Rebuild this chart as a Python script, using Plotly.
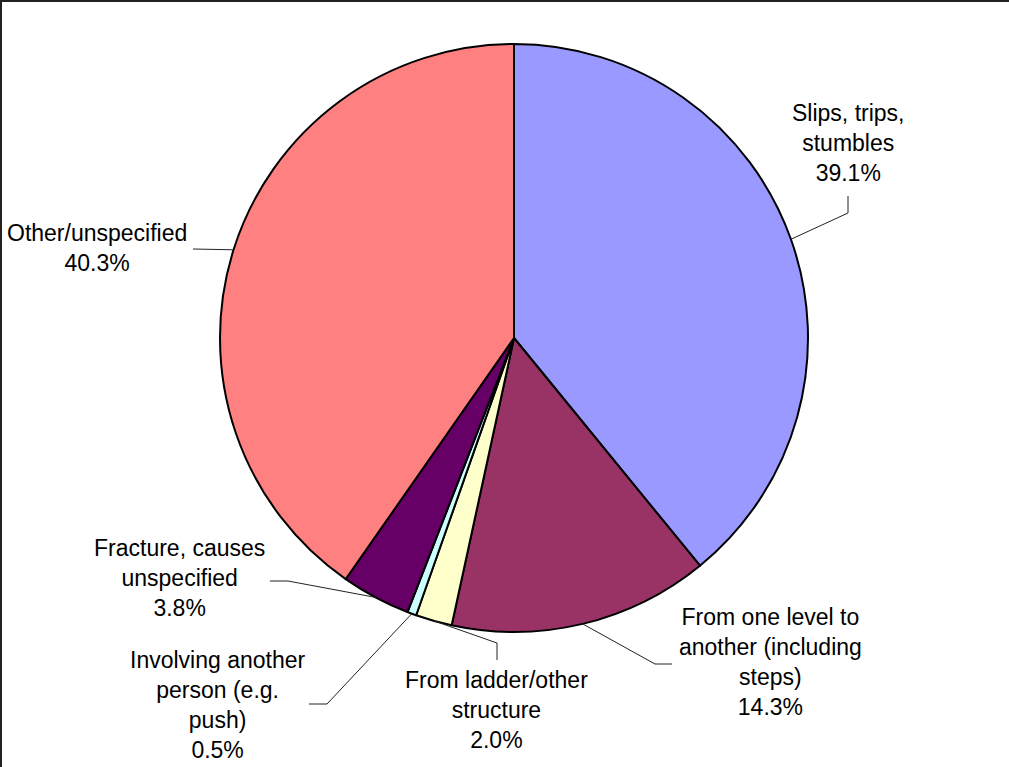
import numpy as np
import plotly.graph_objects as go

W, H = 1009, 767

categories = ["Slips, trips, stumbles", "From one level to another (including steps)",
              "From ladder/other structure", "Involving another person (e.g. push)",
              "Fracture, causes unspecified", "Other/unspecified"]
shares = [39.1, 14.3, 2.0, 0.5, 3.8, 40.3]
label_lines = [["Slips, trips,", "stumbles"],
               ["From one level to", "another (including", "steps)"],
               ["From ladder/other", "structure"],
               ["Involving another", "person (e.g.", "push)"],
               ["Fracture, causes", "unspecified"],
               ["Other/unspecified"]]
colors = ["#9999FF", "#993366", "#FFFFCC", "#CCFFFF", "#660066", "#FF8080"]

# pie geometry in pixels
cx, cy, r = 514, 338, 294

# label block centres and leader line bend / end points (pixels)
label_pos = [(848, 143), (770, 662), (496, 710), (218, 705), (179, 578), (97, 248)]
leader_pts = [[(848, 213), (848, 196)],
              [(655, 664), (672, 664)],
              [(497, 643), (497, 660)],
              [(327, 704), (309, 704)],
              [(288, 581), (270, 581)],
              [(193, 249)]]


def px(x):
    return x / W


def py(y):
    return 1 - y / H


fig = go.Figure()
fig.add_trace(go.Pie(
    labels=categories, values=shares, sort=False, direction="clockwise", rotation=0,
    marker=dict(colors=colors, line=dict(color="black", width=2)),
    textinfo="none", hoverinfo="label+percent", showlegend=False,
    domain=dict(x=[px(cx - r), px(cx + r)], y=[py(cy + r), py(cy - r)]),
))

shapes = []
annotations = []
cum = 0.0
total = sum(shares)
for i, v in enumerate(shares):
    mid = (cum + v / 2) / total * 2 * np.pi
    cum += v
    sx = cx + r * np.sin(mid)
    sy = cy - r * np.cos(mid)
    pts = [(sx, sy)] + leader_pts[i]
    for (x0, y0), (x1, y1) in zip(pts[:-1], pts[1:]):
        shapes.append(dict(type="line", xref="paper", yref="paper",
                           x0=px(x0), y0=py(y0), x1=px(x1), y1=py(y1),
                           line=dict(color="#222222", width=1)))
    text = "<br>".join(label_lines[i] + ["%.1f%%" % v])
    lx, ly = label_pos[i]
    annotations.append(dict(x=px(lx), y=py(ly), xref="paper", yref="paper",
                            text=text, showarrow=False, align="center",
                            xanchor="center", yanchor="middle",
                            font=dict(family="Liberation Sans, Arial", size=23, color="black")))

# chart frame (top and left edges visible)
shapes.append(dict(type="line", xref="paper", yref="paper", x0=0, y0=py(1), x1=1, y1=py(1),
                   line=dict(color="#222222", width=2)))
shapes.append(dict(type="line", xref="paper", yref="paper", x0=px(1), y0=0, x1=px(1), y1=1,
                   line=dict(color="#222222", width=2)))

fig.update_layout(
    width=W, height=H,
    margin=dict(l=0, r=0, t=0, b=0),
    paper_bgcolor="white", plot_bgcolor="white",
    shapes=shapes, annotations=annotations,
)

fig.write_html("out.html", post_script="document.body.style.margin='0px';",
               config={"displayModeBar": False})
